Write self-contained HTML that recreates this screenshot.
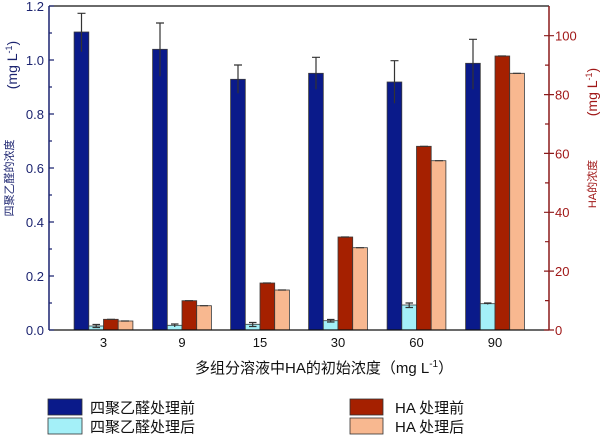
<!DOCTYPE html>
<html><head><meta charset="utf-8"><style>
html,body{margin:0;padding:0;background:#fff;}
svg{display:block;}
text{font-family:"Liberation Sans","Noto Sans CJK SC",sans-serif;}
</style></head><body>
<svg width="600" height="436" viewBox="0 0 600 436" xmlns="http://www.w3.org/2000/svg">
<rect width="600" height="436" fill="#fff"/>
<!-- bars -->
<g stroke="#3a3a3a" stroke-width="0.8">
<!-- G1 c=103.5 -->
<rect x="74.1" y="32" width="14.7" height="298" fill="#0a1a8a"/>
<rect x="88.8" y="326" width="14.7" height="4" fill="#a4f0f8"/>
<rect x="103.5" y="319.3" width="14.7" height="10.7" fill="#a52000"/>
<rect x="118.2" y="321" width="14.7" height="9" fill="#f8b890"/>
<!-- G2 c=182 -->
<rect x="152.6" y="49.3" width="14.7" height="280.7" fill="#0a1a8a"/>
<rect x="167.3" y="325.3" width="14.7" height="4.7" fill="#a4f0f8"/>
<rect x="182" y="300.7" width="14.7" height="29.3" fill="#a52000"/>
<rect x="196.7" y="305.7" width="14.7" height="24.3" fill="#f8b890"/>
<!-- G3 c=260 -->
<rect x="230.6" y="79.3" width="14.7" height="250.7" fill="#0a1a8a"/>
<rect x="245.3" y="324.3" width="14.7" height="5.7" fill="#a4f0f8"/>
<rect x="260" y="283" width="14.7" height="47" fill="#a52000"/>
<rect x="274.7" y="290" width="14.7" height="40" fill="#f8b890"/>
<!-- G4 c=338 -->
<rect x="308.6" y="73.3" width="14.7" height="256.7" fill="#0a1a8a"/>
<rect x="323.3" y="320.7" width="14.7" height="9.3" fill="#a4f0f8"/>
<rect x="338" y="237" width="14.7" height="93" fill="#a52000"/>
<rect x="352.7" y="247.7" width="14.7" height="82.3" fill="#f8b890"/>
<!-- G5 c=416.5 -->
<rect x="387.1" y="82" width="14.7" height="248" fill="#0a1a8a"/>
<rect x="401.8" y="305" width="14.7" height="25" fill="#a4f0f8"/>
<rect x="416.5" y="146.3" width="14.7" height="183.7" fill="#a52000"/>
<rect x="431.2" y="160.7" width="14.7" height="169.3" fill="#f8b890"/>
<!-- G6 c=495 -->
<rect x="465.6" y="63.3" width="14.7" height="266.7" fill="#0a1a8a"/>
<rect x="480.3" y="303.7" width="14.7" height="26.3" fill="#a4f0f8"/>
<rect x="495" y="56" width="14.7" height="274" fill="#a52000"/>
<rect x="509.7" y="73.3" width="14.7" height="256.7" fill="#f8b890"/>
</g>
<!-- error bars -->
<g stroke="#333" stroke-width="1.2" fill="none">
<path d="M81.5 13.3V51.7M77.5 13.3H85.5"/>
<path d="M160 23V76.3M156 23H164"/>
<path d="M238 65V93.3M234 65H242"/>
<path d="M316 57.3V89.3M312 57.3H320"/>
<path d="M394.5 60.7V103.3M390.5 60.7H398.5"/>
<path d="M473 39.3V89.3M469 39.3H477"/>
<path d="M96.2 324.5V327.5M92.5 324.5H100M92.5 327.5H100"/>
<path d="M174.7 324V327M171 324H178.5"/>
<path d="M252.7 322.5V326.5M249 322.5H256.5M249 326.5H256.5"/>
<path d="M330.7 319.5V322M327 319.5H334.5M327 322H334.5"/>
<path d="M409.2 303V307.5M405.5 303H413M405.5 307.5H413"/>
<path d="M487.7 303V304.5M484 303H491.5"/>
<path d="M107 319.3H115M185 300.7H193M263 283H271M341 237H349M420 146.3H428M498 56H506"/>
<path d="M121 321H129M200 305.7H208M278 290H286M356 247.7H364M435 160.7H443M513 73.3H521"/>
</g>
<!-- frame -->
<line x1="49" y1="6" x2="549" y2="6" stroke="#111" stroke-width="1.3"/>
<line x1="49" y1="330" x2="549" y2="330" stroke="#111" stroke-width="1.3"/>
<line x1="49" y1="6" x2="49" y2="330" stroke="#1c2470" stroke-width="1.5"/>
<line x1="549" y1="6" x2="549" y2="330" stroke="#8b1a1a" stroke-width="1.5"/>
<!-- left ticks -->
<g stroke="#1c2470" stroke-width="1.2">
<path d="M49 6H54M49 60H54M49 114H54M49 168H54M49 222H54M49 276H54M49 330H54"/>
<path d="M49 33H52M49 87H52M49 141H52M49 195H52M49 249H52M49 303H52"/>
</g>
<g fill="#1c2470" font-size="13" text-anchor="end">
<text x="44" y="11">1.2</text>
<text x="44" y="65">1.0</text>
<text x="44" y="119">0.8</text>
<text x="44" y="173">0.6</text>
<text x="44" y="227">0.4</text>
<text x="44" y="281">0.2</text>
<text x="44" y="335">0.0</text>
</g>
<!-- right ticks -->
<g stroke="#8b1a1a" stroke-width="1.2">
<path d="M544 35.7H554M544 94.6H554M544 153.4H554M544 212.3H554M544 271.1H554M544 330H554"/>
<path d="M545 65.1H549M545 124H549M545 182.9H549M545 241.7H549M545 300.6H549"/>
</g>
<g fill="#a01818" font-size="13" text-anchor="start">
<text x="555" y="40.5">100</text>
<text x="555" y="99.5">80</text>
<text x="555" y="158.5">60</text>
<text x="555" y="217">40</text>
<text x="555" y="276">20</text>
<text x="555" y="335">0</text>
</g>
<!-- x labels -->
<g fill="#111" font-size="13" text-anchor="middle">
<text x="103.5" y="347">3</text>
<text x="182" y="347">9</text>
<text x="260" y="347">15</text>
<text x="338" y="347">30</text>
<text x="416.5" y="347">60</text>
<text x="495" y="347">90</text>
</g>
<text x="195" y="373" font-size="15" fill="#111">多组分溶液中HA的初始浓度（mg L<tspan dy="-6" font-size="10">-1</tspan><tspan dy="6">）</tspan></text>
<!-- left y label -->
<g transform="translate(17,65) rotate(-90)"><text x="0" y="0" text-anchor="middle" font-size="14" fill="#1c2470">(mg L<tspan dy="-5" font-size="9">-1</tspan><tspan dy="5">)</tspan></text></g>
<g transform="translate(13,178) rotate(-90)"><text x="0" y="0" text-anchor="middle" font-size="11" fill="#1c2470">四聚乙醛的浓度</text></g>
<!-- right y label -->
<g transform="translate(597,92) rotate(-90)"><text x="0" y="0" text-anchor="middle" font-size="14" fill="#a01818">(mg L<tspan dy="-5" font-size="9">-1</tspan><tspan dy="5">)</tspan></text></g>
<g transform="translate(596,184) rotate(-90)"><text x="0" y="0" text-anchor="middle" font-size="11" fill="#a01818">HA的浓度</text></g>
<!-- legend -->
<g stroke="#333" stroke-width="0.8">
<rect x="48" y="399" width="34" height="16" fill="#0a1a8a"/>
<rect x="48" y="418" width="34" height="16" fill="#a4f0f8"/>
<rect x="350" y="399" width="33" height="16" fill="#a52000"/>
<rect x="350" y="418" width="33" height="16" fill="#f8b890"/>
</g>
<g fill="#111" font-size="15">
<text x="90" y="413">四聚乙醛处理前</text>
<text x="90" y="432">四聚乙醛处理后</text>
<text x="395" y="413">HA 处理前</text>
<text x="395" y="432">HA 处理后</text>
</g>
</svg>
</body></html>
